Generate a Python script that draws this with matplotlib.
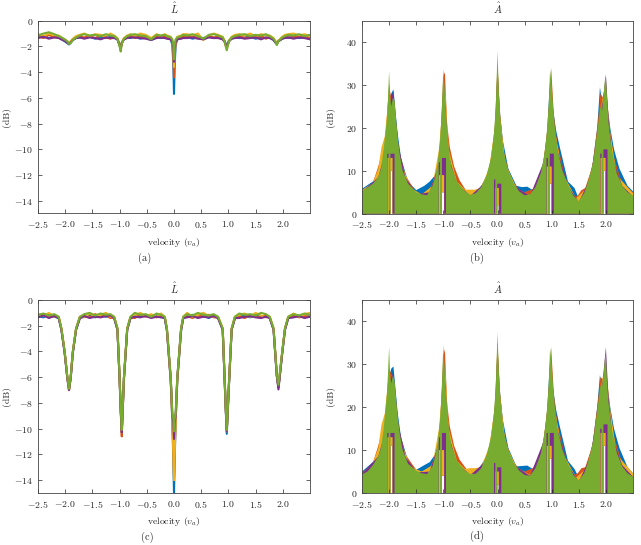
import numpy as np
import matplotlib
matplotlib.use('Agg')
import matplotlib.pyplot as plt

plt.rcParams['font.family'] = 'serif'
plt.rcParams['font.serif'] = ['cmr10']
plt.rcParams['mathtext.fontset'] = 'cm'
plt.rcParams['axes.formatter.use_mathtext'] = True

# colores estilo MATLAB: azul, naranja, amarillo, morado, verde
colores = ['#0072BD', '#D95319', '#EDB120', '#7E2F8E', '#77AC30']

# ---------------- datos L (paneles a y c) ----------------
xL = [-2.5, -2.4, -2.3, -2.2,
      -2.12, -2.07, -2.01, -1.96, -1.93, -1.9, -1.86, -1.8, -1.73,
      -1.65, -1.55, -1.45, -1.35, -1.25, -1.17,
      -1.1, -1.04, -1.0, -0.98, -0.96, -0.92, -0.86, -0.8,
      -0.72, -0.62, -0.52, -0.42, -0.32, -0.24,
      -0.17, -0.13, -0.06, -0.03, -0.012, 0.0, 0.012, 0.03, 0.06, 0.13, 0.17,
      0.24, 0.34, 0.44, 0.54, 0.64, 0.73,
      0.81, 0.895, 0.93, 0.95, 0.97, 1.01, 1.06, 1.12,
      1.2, 1.3, 1.4, 1.5, 1.6, 1.69,
      1.76, 1.83, 1.86, 1.89, 1.92, 1.99, 2.04, 2.1,
      2.2, 2.3, 2.4, 2.5]

# panel (a)
La_azul = [-1.3, -1.2, -1.35, -1.25,
           -1.3, -1.45, -1.6, -1.75, -1.85, -1.7, -1.5, -1.35, -1.3,
           -1.35, -1.25, -1.4, -1.3, -1.35, -1.25,
           -1.3, -1.45, -1.9, -2.1, -1.7, -1.45, -1.3, -1.35,
           -1.25, -1.4, -1.3, -1.5, -1.3, -1.35,
           -1.3, -1.35, -1.45, -1.9, -3.5, -5.7, -3.5, -1.9, -1.45, -1.35, -1.3,
           -1.25, -1.4, -1.3, -1.35, -1.25, -1.35,
           -1.3, -1.45, -1.6, -1.8, -1.9, -1.55, -1.4, -1.3,
           -1.35, -1.3, -1.25, -1.4, -1.3, -1.35,
           -1.3, -1.5, -1.7, -1.8, -1.6, -1.4, -1.3, -1.35,
           -1.25, -1.35, -1.3, -1.4]
La_naranja = [-1.2, -1.35, -1.1, -1.3,
              -1.25, -1.4, -1.5, -1.7, -1.8, -1.65, -1.45, -1.3, -1.25,
              -1.3, -1.2, -1.35, -1.15, -1.3, -1.4,
              -1.25, -1.4, -1.9, -2.2, -1.75, -1.4, -1.3, -1.2,
              -1.35, -1.2, -1.3, -1.4, -1.25, -1.3,
              -1.25, -1.3, -1.4, -1.7, -2.8, -4.4, -2.8, -1.7, -1.4, -1.3, -1.25,
              -1.3, -1.2, -1.35, -1.45, -1.2, -1.3,
              -1.25, -1.4, -1.65, -1.9, -2.1, -1.6, -1.35, -1.25,
              -1.2, -1.35, -1.25, -1.3, -1.2, -1.4,
              -1.25, -1.45, -1.65, -1.8, -1.55, -1.35, -1.25, -1.3,
              -1.3, -1.2, -1.35, -1.25]
La_amarillo = [-1.05, -1.2, -1.0, -1.15,
               -1.15, -1.3, -1.45, -1.6, -1.75, -1.6, -1.4, -1.2, -1.1,
               -1.0, -1.2, -1.05, -1.1, -1.25, -1.0,
               -1.15, -1.35, -1.85, -2.2, -1.7, -1.35, -1.15, -1.05,
               -1.2, -1.0, -1.1, -1.35, -1.05, -1.2,
               -1.05, -1.15, -1.25, -1.6, -2.4, -3.6, -2.4, -1.6, -1.25, -1.15, -1.05,
               -1.05, -1.15, -1.0, -1.5, -1.15, -1.0,
               -1.1, -1.25, -1.55, -1.9, -2.1, -1.55, -1.25, -1.1,
               -1.05, -1.15, -1.0, -1.2, -1.05, -1.15,
               -1.15, -1.35, -1.55, -1.75, -1.55, -1.25, -1.1, -1.05,
               -1.0, -1.15, -1.05, -1.2]
La_morado = [-1.35, -1.25, -1.4, -1.3,
             -1.35, -1.45, -1.55, -1.7, -1.8, -1.7, -1.5, -1.35, -1.3,
             -1.4, -1.3, -1.35, -1.45, -1.3, -1.35,
             -1.35, -1.45, -1.9, -2.2, -1.75, -1.45, -1.35, -1.3,
             -1.3, -1.35, -1.4, -1.5, -1.35, -1.3,
             -1.35, -1.4, -1.45, -1.65, -2.2, -3.2, -2.2, -1.65, -1.45, -1.4, -1.35,
             -1.35, -1.3, -1.4, -1.45, -1.3, -1.35,
             -1.35, -1.45, -1.6, -1.85, -2.0, -1.6, -1.4, -1.35,
             -1.3, -1.4, -1.35, -1.3, -1.45, -1.3,
             -1.35, -1.5, -1.65, -1.8, -1.6, -1.4, -1.35, -1.3,
             -1.4, -1.3, -1.35, -1.45]
La_verde = [-1.15, -1.0, -0.9, -1.05,
            -1.2, -1.3, -1.45, -1.6, -1.8, -1.75, -1.5, -1.3, -1.15,
            -1.05, -1.15, -1.1, -1.2, -1.05, -1.15,
            -1.2, -1.4, -2.0, -2.4, -1.8, -1.4, -1.2, -1.1,
            -1.05, -1.15, -1.2, -1.45, -1.1, -1.15,
            -1.1, -1.2, -1.3, -1.45, -1.9, -3.0, -1.9, -1.45, -1.3, -1.2, -1.1,
            -1.15, -1.05, -1.2, -1.4, -1.1, -1.05,
            -1.15, -1.3, -1.6, -2.0, -2.3, -1.6, -1.3, -1.2,
            -1.1, -1.05, -1.2, -1.1, -1.15, -1.05,
            -1.2, -1.4, -1.6, -1.9, -1.6, -1.3, -1.2, -1.1,
            -1.15, -1.05, -1.2, -1.1]

# panel (c)
Lc_azul = [-1.25, -1.35, -1.1, -1.3,
           -1.4, -2.3, -4.1, -6.1, -6.9, -6.1, -4.1, -2.3, -1.4,
           -1.3, -1.15, -1.35, -1.2, -1.3, -1.25,
           -1.4, -2.3, -6.1, -8.5, -10.2, -6.1, -2.3, -1.4,
           -1.25, -1.3, -1.15, -1.35, -1.2, -1.3,
           -1.4, -2.4, -6.3, -9.5, -12.5, -15.0, -12.5, -9.5, -6.3, -2.4, -1.4,
           -1.3, -1.15, -1.35, -1.25, -1.4, -1.2,
           -1.4, -2.3, -6.1, -8.4, -10.4, -6.6, -2.3, -1.4,
           -1.3, -1.2, -1.35, -1.15, -1.3, -1.25,
           -1.4, -2.3, -4.1, -5.9, -6.8, -4.1, -2.3, -1.4,
           -1.3, -1.2, -1.35, -1.25]
Lc_naranja = [-1.3, -1.15, -1.35, -1.2,
              -1.35, -2.25, -4.05, -6.05, -7.0, -6.05, -4.05, -2.25, -1.35,
              -1.2, -1.35, -1.1, -1.3, -1.2, -1.4,
              -1.35, -2.25, -6.1, -8.6, -10.6, -6.1, -2.25, -1.35,
              -1.4, -1.1, -1.3, -1.2, -1.35, -1.25,
              -1.35, -2.3, -6.2, -9.3, -11.8, -13.8, -11.8, -9.3, -6.2, -2.3, -1.35,
              -1.25, -1.4, -1.2, -1.3, -1.15, -1.35,
              -1.35, -2.25, -6.05, -8.3, -10.2, -6.5, -2.25, -1.35,
              -1.25, -1.4, -1.2, -1.3, -1.35, -1.15,
              -1.35, -2.25, -4.05, -5.85, -6.8, -4.05, -2.25, -1.35,
              -1.2, -1.35, -1.25, -1.3]
Lc_amarillo = [-1.1, -1.25, -1.0, -1.3,
               -1.3, -2.2, -4.0, -6.0, -7.0, -6.0, -4.0, -2.2, -1.3,
               -1.35, -1.05, -1.25, -1.15, -1.0, -1.3,
               -1.3, -2.2, -6.0, -8.5, -10.3, -6.0, -2.2, -1.3,
               -1.2, -1.0, -1.25, -1.1, -1.3, -1.05,
               -1.3, -2.3, -6.2, -9.4, -12.0, -14.0, -12.0, -9.4, -6.2, -2.3, -1.3,
               -1.0, -1.3, -1.15, -1.0, -1.25, -1.3,
               -1.3, -2.2, -6.0, -8.2, -10.2, -6.5, -2.2, -1.3,
               -1.15, -1.05, -1.3, -1.0, -1.2, -1.35,
               -1.3, -2.2, -4.0, -5.8, -6.7, -4.0, -2.2, -1.3,
               -1.05, -1.3, -1.1, -1.0]
Lc_morado = [-1.35, -1.2, -1.4, -1.25,
             -1.4, -2.3, -4.1, -6.1, -7.0, -6.1, -4.1, -2.3, -1.4,
             -1.25, -1.4, -1.3, -1.35, -1.25, -1.2,
             -1.4, -2.3, -6.1, -8.5, -10.3, -6.1, -2.3, -1.4,
             -1.3, -1.35, -1.25, -1.4, -1.3, -1.35,
             -1.4, -2.3, -6.1, -9.0, -9.6, -10.8, -9.6, -9.0, -6.1, -2.3, -1.4,
             -1.35, -1.25, -1.4, -1.3, -1.35, -1.25,
             -1.4, -2.3, -6.1, -8.3, -10.2, -6.6, -2.3, -1.4,
             -1.4, -1.3, -1.25, -1.35, -1.4, -1.3,
             -1.4, -2.3, -4.1, -5.9, -6.95, -4.1, -2.3, -1.4,
             -1.35, -1.25, -1.4, -1.3]
Lc_verde = [-1.15, -1.05, -1.2, -1.1,
            -1.3, -2.2, -4.0, -6.0, -6.9, -6.0, -4.0, -2.2, -1.3,
            -1.1, -1.0, -1.2, -1.05, -1.15, -1.1,
            -1.3, -2.2, -6.0, -8.4, -10.1, -6.0, -2.2, -1.3,
            -1.0, -1.15, -1.1, -1.3, -1.05, -1.15,
            -1.3, -2.2, -6.0, -8.8, -9.2, -10.2, -9.2, -8.8, -6.0, -2.2, -1.3,
            -1.1, -1.2, -1.0, -1.15, -1.2, -1.1,
            -1.3, -2.2, -6.0, -8.2, -10.1, -6.5, -2.2, -1.3,
            -1.05, -1.15, -1.1, -1.2, -1.0, -1.1,
            -1.3, -2.2, -4.0, -5.8, -6.6, -4.0, -2.2, -1.3,
            -1.1, -1.2, -1.05, -1.15]

# ---------------- datos A (paneles b y d) ----------------
# borde superior de cada serie
x_verde = [-2.5, -2.4, -2.3, -2.2, -2.15, -2.1, -2.07, -2.04, -2.02, -2.0,
           -1.98, -1.96, -1.93, -1.9, -1.87, -1.84, -1.8, -1.75, -1.65,
           -1.5, -1.4, -1.3, -1.2, -1.15, -1.1, -1.06, -1.03, -1.0,
           -0.98, -0.96, -0.93, -0.9, -0.85, -0.75, -0.6, -0.5, -0.4, -0.3, -0.2, -0.12, -0.07, -0.03, 0.0,
           0.03, 0.07, 0.12, 0.2, 0.3, 0.4, 0.5, 0.6, 0.7, 0.8, 0.86, 0.9, 0.94, 0.97,
           1.0, 1.03, 1.07, 1.12, 1.2, 1.3, 1.4, 1.5, 1.6,
           1.7, 1.77, 1.83, 1.87, 1.9, 1.93, 1.96, 1.98, 2.0,
           2.02, 2.05, 2.1, 2.2, 2.3, 2.4, 2.5]
Ab_verde = [5.3, 6.0, 7.0, 8.5, 10.5, 15, 18.5, 22, 27, 33.3,
            27, 25, 27, 26.5, 22, 17.5, 13.5, 10, 7,
            5.0, 4.5, 4.3, 6.5, 8.5, 12, 17, 23, 33.8,
            30, 25, 19.5, 15, 11, 7.5, 5.2, 4.4, 4.8, 6.2, 9, 13, 18, 25, 38,
            26, 19, 14, 10, 7, 5.2, 4.3, 4.5, 6.2, 9.5, 13.5, 17.5, 24, 33.5,
            30, 24, 18.5, 14, 10, 6.8, 4.2, 2.9, 4.8,
            8.5, 12.5, 18, 22, 25, 24, 28, 31, 32,
            27, 21, 15.5, 9.5, 6.5, 5.0, 4.2]
Ad_verde = [4.3, 5.0, 6.5, 8.5, 10.5, 15, 19, 23, 28, 34,
            27, 25.5, 27.5, 26, 22, 17.5, 13.5, 10, 6.8,
            5.2, 4.6, 4.4, 6.2, 8.5, 12, 17, 23, 34.5,
            30, 25, 20, 15, 11, 7.5, 5.2, 4.4, 4.5, 5.8, 8.8, 13, 18, 25, 37.5,
            26, 19, 14, 10, 7, 5.2, 4.2, 4.0, 5.8, 9.2, 13.5, 17.5, 24, 33.8,
            30, 24, 18.5, 14, 10, 6.8, 4.2, 2.9, 4.6,
            8.3, 12.5, 18, 22, 25, 25, 28, 31, 32.5,
            26, 21, 15.5, 9.5, 6.2, 4.6, 3.8]

x_azul = [-2.5, -2.3, -2.2, -2.1, -2.04, -2.0, -1.96, -1.92, -1.88, -1.84,
          -1.78, -1.65, -1.5, -1.35, -1.25, -1.15, -1.1, -1.05, -1.0, -0.95,
          -0.9, -0.8, -0.6, -0.4, -0.2, -0.1, -0.04, 0.0, 0.05, 0.1,
          0.2, 0.35, 0.45, 0.55, 0.65, 0.8, 0.9, 0.97, 1.02, 1.08,
          1.15, 1.3, 1.42, 1.5, 1.6, 1.75, 1.84, 1.89, 1.93, 1.98,
          2.03, 2.08, 2.15, 2.25, 2.4, 2.5]
Ab_azul = [5.8, 7.5, 8.8, 14, 20, 27, 28, 29, 23.5, 18.5,
           13, 7.5, 5.5, 6.5, 7.5, 9, 12, 17.5, 30, 22,
           13.5, 9, 5, 4.5, 8.5, 13.5, 21, 33, 23, 17,
           10.5, 6.5, 6.2, 6.3, 5.5, 9, 16, 31, 25, 19.5,
           15.5, 7.5, 6, 3.5, 4.5, 11, 20, 29.5, 26, 29,
           25, 20, 15, 10.5, 6.5, 5.2]
Ad_azul = [5.0, 7.2, 8.8, 14, 20, 27, 29, 29.5, 24, 18.5,
           13, 7.5, 5.4, 6.5, 7.2, 9, 12, 17.5, 30, 22,
           13.5, 9, 5, 4.6, 8.5, 13.5, 21, 33, 23, 17,
           10.5, 6.2, 6.3, 6.4, 5.6, 9, 16, 31, 25, 19.5,
           15.5, 7.5, 5.6, 3.6, 4.6, 11, 20, 27.5, 25, 29,
           25, 20, 15, 10.5, 6.0, 4.6]

x_naranja = [-2.5, -2.3, -2.2, -2.12, -2.06, -2.0, -1.95, -1.92, -1.88, -1.82,
             -1.7, -1.5, -1.3, -1.15, -1.06, -1.0, -0.97, -0.93, -0.88, -0.8,
             -0.7, -0.55, -0.35, -0.15, -0.05, 0.0, 0.05, 0.12, 0.25, 0.45,
             0.7, 0.85, 0.93, 0.99, 1.04, 1.1, 1.25, 1.4, 1.48, 1.55,
             1.62, 1.75, 1.85, 1.9, 1.95, 2.0, 2.05, 2.15, 2.3, 2.5]
Ab_naranja = [5.0, 7.2, 11, 14.5, 19, 30, 26, 28, 21.5, 15,
              9, 4.8, 4.5, 8.5, 16, 32, 33, 21, 15.5, 11,
              7.8, 4.8, 5.2, 10, 20, 35, 23, 14, 8, 4.8,
              6, 12, 21, 34, 23, 16.5, 8.5, 3.8, 4.2, 5.5,
              6, 11, 21, 28, 27, 31, 21, 13, 7, 5.0]
Ad_naranja = [4.5, 7.0, 11, 15, 19.5, 29, 27.5, 27, 22, 15,
              9, 5.4, 4.6, 8.5, 16, 32, 33.5, 21, 15.5, 11,
              7.8, 5.2, 5.0, 10, 20, 35, 23, 14, 8, 4.8,
              6, 12, 21, 34, 23, 16.5, 8.5, 4.2, 4.6, 5.8,
              6, 11, 21, 27, 26.5, 31, 21, 13, 7, 4.5]

x_amarillo = [-2.5, -2.3, -2.2, -2.14, -2.08, -2.02, -1.97, -1.9, -1.8, -1.6,
              -1.4, -1.2, -1.08, -1.02, -0.97, -0.9, -0.75, -0.6, -0.5, -0.42,
              -0.3, -0.15, -0.05, 0.0, 0.05, 0.15, 0.35, 0.6, 0.8, 0.92,
              0.98, 1.05, 1.2, 1.45, 1.65, 1.8, 1.88, 1.94, 2.0, 2.08,
              2.2, 2.5]
Ab_amarillo = [5.5, 7.2, 10.5, 15.5, 18, 26, 26, 22, 12.5, 6,
               4.5, 6.5, 15, 24, 30, 15, 7.5, 5.6, 5.6, 5.6,
               6, 11, 20, 34, 22, 11.5, 6, 4.3, 8, 19,
               31, 20, 9.5, 3.6, 6, 14, 22, 27, 30, 19,
               9, 4.8]
Ad_amarillo = [4.6, 7.0, 10.5, 16, 18.5, 26, 25, 21, 12.5, 6,
               5.0, 6.5, 15, 24, 30, 15, 7.5, 5.6, 5.8, 5.8,
               6, 11, 20, 34, 22, 11.5, 6, 4.2, 8, 19,
               31, 20, 9.5, 3.6, 5.8, 14, 22, 27, 30, 19.5,
               9, 4.6]

x_morado = [-2.5, -2.2, -2.1, -2.04, -2.0, -1.96, -1.92, -1.88, -1.83, -1.7,
            -1.5, -1.25, -1.1, -1.04, -0.99, -0.95, -0.9, -0.75, -0.5, -0.25,
            -0.1, -0.03, 0.0, 0.04, 0.12, 0.3, 0.6, 0.85, 0.93, 0.98,
            1.03, 1.1, 1.3, 1.5, 1.7, 1.82, 1.88, 1.94, 2.0, 2.04,
            2.12, 2.3, 2.5]
Ab_morado = [5, 8.5, 13, 19, 25, 27, 28.5, 23, 16, 8.5,
             4.5, 5, 11, 18, 31, 23, 13.5, 7, 4.2, 7,
             12, 23, 35, 22, 12, 6.5, 4.2, 12, 20, 32,
             23, 15, 6.5, 2.7, 8, 16, 22, 26, 32.5, 24,
             13, 6.5, 4]
Ad_morado = [4.5, 8.5, 13, 19, 25, 27, 28, 23, 16, 8.5,
             4.8, 5, 11, 18, 31, 23, 13.5, 7, 4.2, 7,
             12, 23, 35, 22, 12, 6.5, 4.0, 12, 20, 32,
             23, 15, 6.5, 2.7, 8, 16, 22, 26, 34, 24,
             13, 6.5, 3.8]

# borde inferior (huecos bajo los picos)
hueco_x = [-2.5, -1.975, -1.975, -1.935, -1.935, -1.025, -1.025, -0.985, -0.985,
           -0.005, -0.005, 0.025, 0.025, 0.965, 0.965, 1.0, 1.0,
           1.955, 1.955, 1.995, 1.995, 2.5]
Ab_hueco = [0, 0, 10, 10, 0, 0, 5, 5, 0, 0, 2, 2, 0, 0, 7, 7, 0, 0, 10, 10, 0, 0]
Ad_hueco = [0, 0, 11, 11, 0, 0, 4, 4, 0, 0, 2, 2, 0, 0, 8, 8, 0, 0, 11, 11, 0, 0]

hueco_morado_x = [-2.5, -2.03, -2.03, -1.935, -1.935, -1.08, -1.08, -0.985, -0.985,
                  -0.04, -0.04, 0.025, 0.025, 0.91, 0.91, 1.0, 1.0,
                  1.9, 1.9, 1.995, 1.995, 2.5]
Ab_hueco_morado = [0, 0, 13, 13, 0, 0, 9, 9, 0, 0, 6, 6, 0, 0, 11, 11, 0, 0, 13, 13, 0, 0]
Ad_hueco_morado = [0, 0, 13, 13, 0, 0, 10, 10, 0, 0, 5, 5, 0, 0, 11, 11, 0, 0, 14, 14, 0, 0]

hueco_verde_x = [-2.5,
                 -2.035, -2.035, -2.01, -2.01, -1.975, -1.975, -1.9, -1.9,
                 -1.085, -1.085, -1.06, -1.06, -1.025, -1.025, -0.95, -0.95,
                 -0.065, -0.065, -0.04, -0.04, -0.005, -0.005, 0.07, 0.07,
                 0.905, 0.905, 0.93, 0.93, 0.965, 0.965, 1.04, 1.04,
                 1.895, 1.895, 1.92, 1.92, 1.955, 1.955, 2.03, 2.03,
                 2.5]
Ab_hueco_verde = [0,
                  0, 14, 14, 0, 0, 14, 14, 0,
                  0, 12, 12, 0, 0, 13, 13, 0,
                  0, 8, 8, 0, 0, 7, 7, 0,
                  0, 13, 13, 0, 0, 14, 14, 0,
                  0, 14, 14, 0, 0, 15, 15, 0,
                  0]
Ad_hueco_verde = [0,
                  0, 14, 14, 0, 0, 14, 14, 0,
                  0, 13, 13, 0, 0, 14, 14, 0,
                  0, 7, 7, 0, 0, 6, 6, 0,
                  0, 14, 14, 0, 0, 14, 14, 0,
                  0, 15, 15, 0, 0, 16, 16, 0,
                  0]

xticks = [-2.5, -2, -1.5, -1, -0.5, 0, 0.5, 1, 1.5, 2]

W, H = 641, 545
fig = plt.figure(figsize=(W / 100, H / 100), dpi=100)


def nuevo_eje(izq, arriba, der, abajo):
    return fig.add_axes([izq / W, 1 - abajo / H, (der - izq) / W, (abajo - arriba) / H])


def estilo(ax, titulo, ylim, yticks):
    ax.set_xlim(-2.5, 2.5)
    ax.set_ylim(*ylim)
    ax.set_xticks(xticks)
    ax.set_yticks(yticks)
    ax.tick_params(direction='in', length=3, width=0.5, top=True, right=True,
                   labelsize=7, colors='#262626')
    ax.tick_params(axis='x', pad=4)
    for s in ax.spines.values():
        s.set_linewidth(0.6)
        s.set_color('#444444')
    ax.set_xlabel(r'velocity ($v_a$)', fontsize=7, color='#262626')
    ax.set_ylabel('(dB)', fontsize=7, color='#262626')
    ax.xaxis.set_label_coords(0.5, -0.115)
    ax.text(0.5, 1.062, titulo, transform=ax.transAxes, ha='center', va='center',
            fontsize=7.5, color='#262626')


def panel_L(ax, series, titulo):
    for ys, c in zip(series, colores):
        ax.plot(xL, ys, color=c, lw=1.5, solid_joinstyle='round')
    estilo(ax, titulo, (-15, 0), [-14, -12, -10, -8, -6, -4, -2, 0])
    ax.yaxis.set_label_coords(-0.1, 0.5)


def panel_A(ax, series, titulo):
    for (xs, ys, lx, ly), c in zip(series, colores):
        px = np.concatenate([xs, lx[::-1]])
        py = np.concatenate([ys, ly[::-1]])
        ax.fill(px, py, color=c, lw=0)
    estilo(ax, titulo, (0, 45), [0, 10, 20, 30, 40])
    ax.yaxis.set_label_coords(-0.1, 0.5)


ax_a = nuevo_eje(38, 20.7, 310, 213.5)
panel_L(ax_a, [La_azul, La_naranja, La_amarillo, La_morado, La_verde], r'$\hat{L}$')

ax_b = nuevo_eje(362, 20.7, 633, 213.7)
panel_A(ax_b, [(x_azul, Ab_azul, hueco_x, Ab_hueco),
               (x_naranja, Ab_naranja, hueco_x, Ab_hueco),
               (x_amarillo, Ab_amarillo, hueco_x, Ab_hueco),
               (x_morado, Ab_morado, hueco_morado_x, Ab_hueco_morado),
               (x_verde, Ab_verde, hueco_verde_x, Ab_hueco_verde)], r'$\hat{A}$')

ax_c = nuevo_eje(38, 300, 310, 493)
panel_L(ax_c, [Lc_azul, Lc_naranja, Lc_amarillo, Lc_morado, Lc_verde], r'$\hat{L}$')

ax_d = nuevo_eje(362, 300, 633, 493)
panel_A(ax_d, [(x_azul, Ad_azul, hueco_x, Ad_hueco),
               (x_naranja, Ad_naranja, hueco_x, Ad_hueco),
               (x_amarillo, Ad_amarillo, hueco_x, Ad_hueco),
               (x_morado, Ad_morado, hueco_morado_x, Ad_hueco_morado),
               (x_verde, Ad_verde, hueco_verde_x, Ad_hueco_verde)], r'$\hat{A}$')

# leyendas de subfigura
for txt, xp, yp in [('(a)', 145, 258), ('(b)', 477, 258), ('(c)', 147, 537), ('(d)', 477, 536)]:
    fig.text(xp / W, 1 - yp / H, txt, ha='center', va='center', fontsize=7.5, color='#262626')

fig.savefig('out.png', dpi=100)
